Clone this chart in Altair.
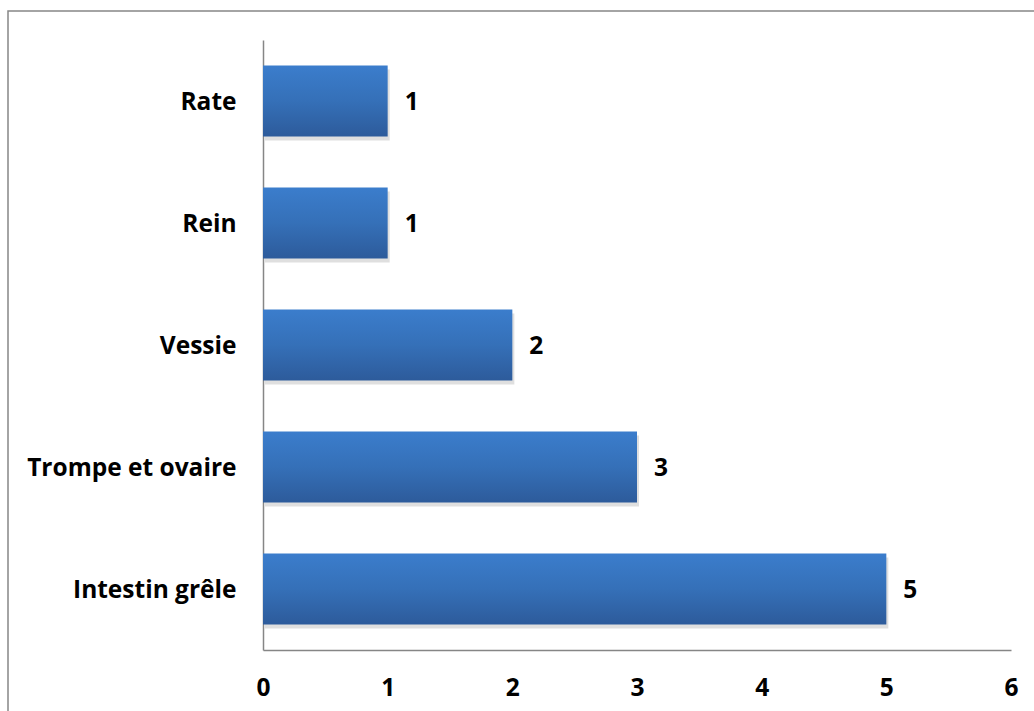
import altair as alt
import pandas as pd

# Localisations de l'atteinte (effectifs)
organes = ["Rate", "Rein", "Vessie", "Trompe et ovaire", "Intestin grêle"]
effectifs = [1, 1, 2, 3, 5]
graduations = [0, 1, 2, 3, 4, 5, 6]

df = pd.DataFrame({"organe": organes, "n": effectifs})

FONT = "Open Sans"
SIZE = 24.5
AXIS_GREY = "#868686"

y_enc = alt.Y(
    "organe:N",
    sort=organes,
    title=None,
    scale=alt.Scale(paddingInner=0.42, paddingOuter=0.21),
    axis=alt.Axis(
        labelFont=FONT, labelFontSize=SIZE, labelFontWeight="bold",
        labelColor="black", labelPadding=27, labelLimit=400, labelOffset=2,
        ticks=False, domainColor=AXIS_GREY, domainWidth=1.5,
    ),
)
x_enc = alt.X(
    "n:Q",
    title=None,
    scale=alt.Scale(domain=[0, 6], nice=False),
    axis=alt.Axis(
        values=graduations, format="d", grid=False, ticks=False,
        labelFlush=False,
        labelFont=FONT, labelFontSize=SIZE, labelFontWeight="bold",
        labelColor="black", labelBaseline="middle", labelPadding=38,
        domainColor=AXIS_GREY, domainWidth=1.5,
    ),
)

base = alt.Chart(df)

shadow = base.mark_bar(color="#d2d2d2", opacity=0.7, yOffset=4, xOffset=2).encode(
    x=x_enc, y=y_enc
)

gradient = alt.Gradient(
    gradient="linear",
    x1=0, x2=0, y1=0, y2=1,
    stops=[
        alt.GradientStop(color="#3b7dcc", offset=0),
        alt.GradientStop(color="#3570b8", offset=0.5),
        alt.GradientStop(color="#2d5b9b", offset=1),
    ],
)
bars = base.mark_bar(color=gradient).encode(x=x_enc, y=y_enc)

labels = base.mark_text(
    align="left", baseline="middle", dx=17, dy=2,
    font=FONT, fontSize=SIZE, fontWeight="bold", color="black",
).encode(x=x_enc, y=y_enc, text="n:Q")

frame = alt.Chart(alt.Data(values=[{}])).mark_rect(
    fill=None, stroke="#878787", strokeWidth=1.5
).encode(
    x=alt.value(-255), y=alt.value(-29), x2=alt.value(800), y2=alt.value(700)
)

chart = (
    alt.layer(frame, shadow, bars, labels)
    .properties(
        width=748, height=610,
        autosize=alt.AutoSizeParams(type="none"),
        padding={"left": 263, "top": 40, "right": 23, "bottom": 61},
        background="white",
    )
    .configure_view(strokeWidth=0)
)

chart.save("out.html", embed_options={"renderer": "svg", "actions": False})
